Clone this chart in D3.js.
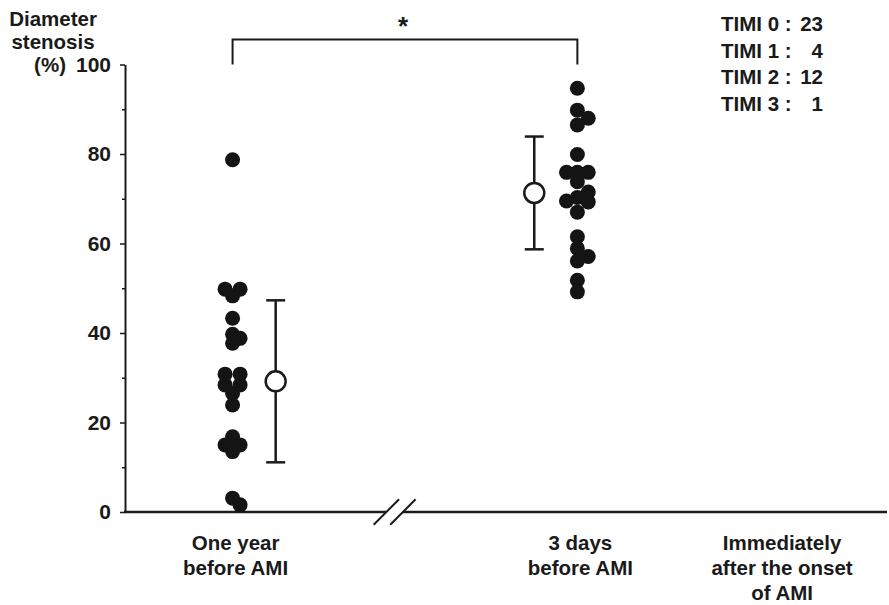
<!DOCTYPE html>
<html lang="en">
<head>
<meta charset="UTF-8">
<title>Diameter stenosis before AMI</title>
<script src="https://cdn.jsdelivr.net/npm/d3@7"></script>
<style>
  body { margin: 0; background: #fff; }
  svg text { font-family: "Liberation Sans", Arial, Helvetica, sans-serif; font-weight: bold; fill: #1a1a1a; }
</style>
</head>
<body>
<svg id="chart" width="889" height="605"></svg>
<script>

// values
var groupLines = [["One year", "before AMI"], ["3 days", "before AMI"], ["Immediately", "after the onset", "of AMI"]];
var groupPos   = [1, 3, 4.17];          // position along the (broken) time axis
var breakPos   = 1.94;                  // where the axis is broken

var yearValues = [78.7, 49.8, 49.8, 48.3, 43.3, 39.7, 38.8, 37.7, 30.8, 30.8,
                  28.4, 28.4, 26.5, 23.9, 16.8, 15.0, 15.0, 13.5, 3.1, 1.6];
var yearJitter = [0, -1, 1, 0, 0, 0, 1, 0, -1, 1, -1, 1, 0, 0, 0, -1, 1, 0, 0, 1];

var daysValues = [94.7, 89.8, 88.0, 86.5, 79.9, 75.9, 75.9, 75.9, 73.8, 71.5,
                  70.3, 69.5, 69.3, 67.0, 61.5, 58.9, 57.1, 56.1, 51.8, 49.2];
var daysJitter = [0, 0, 1.45, 0, 0, -1.45, 0, 1.45, 0, 1.45,
                  0, -1.45, 1.45, 0, 0, 0, 1.45, 0, 0, 0];

var meanValues = [29.2, 71.3];
var sdValues   = [18.1, 12.6];
var meanShift  = [0.25, -0.25];

var yTicks      = [0, 20, 40, 60, 80, 100];
var yMinorTicks = [10, 30, 50, 70, 90];

var timiGrades = ["TIMI 0 :", "TIMI 1 :", "TIMI 2 :", "TIMI 3 :"];
var timiCounts = [23, 4, 12, 1];

var sigMark = "*";
var bracketLevel = 105.6;

// layout
var ink = "#1a1a1a";
var dotR = 7.5;
var svg = d3.select("#chart");

var x = d3.scaleLinear().domain([0.376, 4.796]).range([125, 887]);
var y = d3.scaleLinear().domain([0, 100]).range([512, 64.5]);

// y axis: major ticks with labels, minor ticks without
var yAxis = svg.append("g")
    .attr("transform", "translate(" + x(x.domain()[0]) + ",0)")
    .call(d3.axisLeft(y).tickValues(yTicks).tickSize(5).tickSizeOuter(0).tickPadding(9));
yAxis.select(".domain").attr("stroke", ink).attr("stroke-width", 2);
yAxis.selectAll(".tick line").attr("stroke", ink).attr("stroke-width", 1.5);
yAxis.selectAll(".tick text").style("font-size", "21px").attr("fill", ink);

svg.append("g")
    .attr("transform", "translate(" + x(x.domain()[0]) + ",0)")
    .call(d3.axisLeft(y).tickValues(yMinorTicks).tickSize(3).tickFormat(""))
    .call(function(g) { g.select(".domain").remove(); })
    .selectAll(".tick line").attr("stroke", ink).attr("stroke-width", 1.5);

// y axis title
var title = svg.append("g").style("font-size", "20.5px");
title.append("text").attr("x", 53).attr("y", 26).attr("text-anchor", "middle").text("Diameter");
title.append("text").attr("x", 53).attr("y", 49).attr("text-anchor", "middle").text("stenosis");
title.append("text").attr("x", 66).attr("y", y(100) + 7.5).attr("text-anchor", "end").text("(%)");

// x axis with break
var bx = x(breakPos), gap = 8.3, sl = 12.7;
svg.append("line").attr("x1", x.range()[0] - 1).attr("x2", bx - gap)
    .attr("y1", y(0)).attr("y2", y(0)).attr("stroke", ink).attr("stroke-width", 2.5);
svg.append("line").attr("x1", bx + gap).attr("x2", x.range()[1])
    .attr("y1", y(0)).attr("y2", y(0)).attr("stroke", ink).attr("stroke-width", 2.5);
svg.selectAll(".brk").data([-gap, gap]).enter().append("line")
    .attr("class", "brk")
    .attr("x1", function(d) { return bx + d - sl; })
    .attr("y1", y(0) + sl)
    .attr("x2", function(d) { return bx + d + sl; })
    .attr("y2", y(0) - sl)
    .attr("stroke", ink).attr("stroke-width", 2);

// category labels
groupLines.forEach(function(lines, i) {
  var t = svg.append("text")
      .attr("text-anchor", "middle")
      .style("font-size", "20.5px");
  lines.forEach(function(s, j) {
    t.append("tspan").attr("x", x(groupPos[i]) + 3).attr("y", 550 + j * 25).text(s);
  });
});

// individual patients
function drawDots(values, jitter, pos) {
  svg.append("g").selectAll("circle")
    .data(values)
    .enter().append("circle")
      .attr("cx", function(d, i) { return x(pos) + jitter[i] * dotR; })
      .attr("cy", function(d) { return y(d); })
      .attr("r", dotR)
      .attr("fill", "#141414");
}
drawDots(yearValues, yearJitter, groupPos[0]);
drawDots(daysValues, daysJitter, groupPos[1]);

// mean +/- SD
meanValues.forEach(function(m, i) {
  var cx = x(groupPos[i] + meanShift[i]);
  var g = svg.append("g").attr("stroke", ink).attr("stroke-width", 2.5);
  g.append("line").attr("x1", cx).attr("x2", cx).attr("y1", y(m + sdValues[i])).attr("y2", y(m - sdValues[i]));
  [m + sdValues[i], m - sdValues[i]].forEach(function(v) {
    g.append("line").attr("x1", cx - 9.5).attr("x2", cx + 9.5).attr("y1", y(v)).attr("y2", y(v));
  });
  g.append("circle").attr("cx", cx).attr("cy", y(m)).attr("r", 10).attr("fill", "#fff");
});

// significance bracket
var bl = x(groupPos[0]), br = x(groupPos[1]);
svg.append("path")
    .attr("d", d3.line()([[bl, y(100)], [bl, y(bracketLevel)], [br, y(bracketLevel)], [br, y(100)]]))
    .attr("fill", "none").attr("stroke", ink).attr("stroke-width", 2);
svg.append("text")
    .attr("x", (bl + br) / 2 - 2).attr("y", 35)
    .attr("text-anchor", "middle")
    .style("font-size", "26px")
    .text(sigMark);

// TIMI grade counts
var timi = svg.append("g").style("font-size", "20.5px");
timiGrades.forEach(function(s, i) {
  timi.append("text").attr("x", 721).attr("y", 31 + i * 26.5).text(s);
  timi.append("text").attr("x", 823).attr("y", 31 + i * 26.5).attr("text-anchor", "end").text(timiCounts[i]);
});

</script>
</body>
</html>
